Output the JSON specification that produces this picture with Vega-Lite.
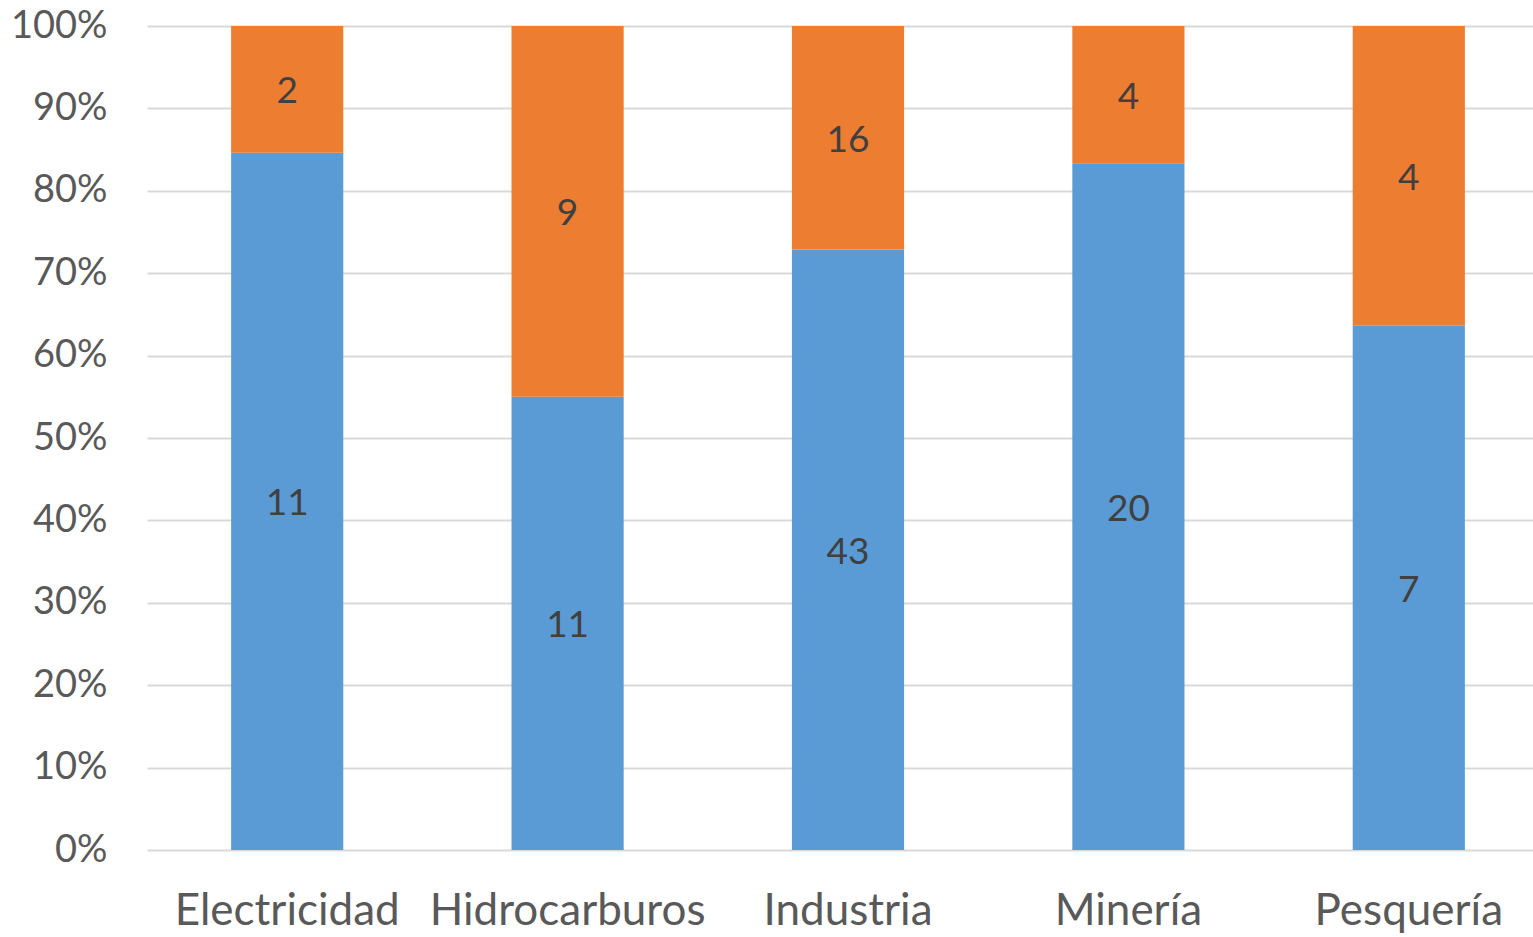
{
  "$schema": "https://vega.github.io/schema/vega-lite/v6.json",
  "width": 1402,
  "height": 824,
  "autosize": {"type": "none"},
  "padding": {"left": 147, "top": 26, "right": 0, "bottom": 87},
  "background": "white",
  "config": {
    "view": {"stroke": null},
    "font": "Lato"
  },
  "data": {
    "values": [
      {"sector": "Electricidad", "serie": "Serie 1", "orden": 1, "valor": 11},
      {"sector": "Electricidad", "serie": "Serie 2", "orden": 2, "valor": 2},
      {"sector": "Hidrocarburos", "serie": "Serie 1", "orden": 1, "valor": 11},
      {"sector": "Hidrocarburos", "serie": "Serie 2", "orden": 2, "valor": 9},
      {"sector": "Industria", "serie": "Serie 1", "orden": 1, "valor": 43},
      {"sector": "Industria", "serie": "Serie 2", "orden": 2, "valor": 16},
      {"sector": "Minería", "serie": "Serie 1", "orden": 1, "valor": 20},
      {"sector": "Minería", "serie": "Serie 2", "orden": 2, "valor": 4},
      {"sector": "Pesquería", "serie": "Serie 1", "orden": 1, "valor": 7},
      {"sector": "Pesquería", "serie": "Serie 2", "orden": 2, "valor": 4}
    ]
  },
  "transform": [
    {"stack": "valor", "groupby": ["sector"], "sort": [{"field": "orden", "order": "ascending"}], "offset": "normalize", "as": ["y0", "y1"]},
    {"calculate": "(datum.y0 + datum.y1) / 2", "as": "ymid"}
  ],
  "encoding": {
    "x": {
      "field": "sector",
      "type": "nominal",
      "sort": null,
      "scale": {"paddingInner": 0.6, "paddingOuter": 0.3},
      "axis": {
        "title": null,
        "labelAngle": 0,
        "labelFontSize": 44,
        "labelColor": "#595959",
        "labelPadding": 39,
        "labelLimit": 0,
        "labelOverlap": false,
        "ticks": false,
        "domain": false,
        "grid": false
      }
    }
  },
  "layer": [
    {
      "mark": {"type": "bar"},
      "encoding": {
        "y": {
          "field": "y0",
          "type": "quantitative",
          "scale": {"domain": [0, 1], "nice": false},
          "axis": {
            "title": null,
            "format": "%",
            "values": [0, 0.1, 0.2, 0.3, 0.4, 0.5, 0.6, 0.7, 0.8, 0.9, 1],
            "labelFontSize": 38,
            "labelColor": "#595959",
            "labelPadding": 40,
            "ticks": false,
            "domain": false,
            "grid": true,
            "gridColor": "#d9d9d9",
            "gridWidth": 2
          }
        },
        "y2": {"field": "y1"},
        "color": {
          "field": "serie",
          "type": "nominal",
          "scale": {"domain": ["Serie 1", "Serie 2"], "range": ["#5b9bd5", "#ed7d31"]},
          "legend": null
        }
      }
    },
    {
      "mark": {"type": "text", "fontSize": 37, "color": "#404040", "baseline": "middle", "align": "center", "dy": 3},
      "encoding": {
        "y": {"field": "ymid", "type": "quantitative"},
        "text": {"field": "valor", "type": "quantitative"}
      }
    }
  ]
}
